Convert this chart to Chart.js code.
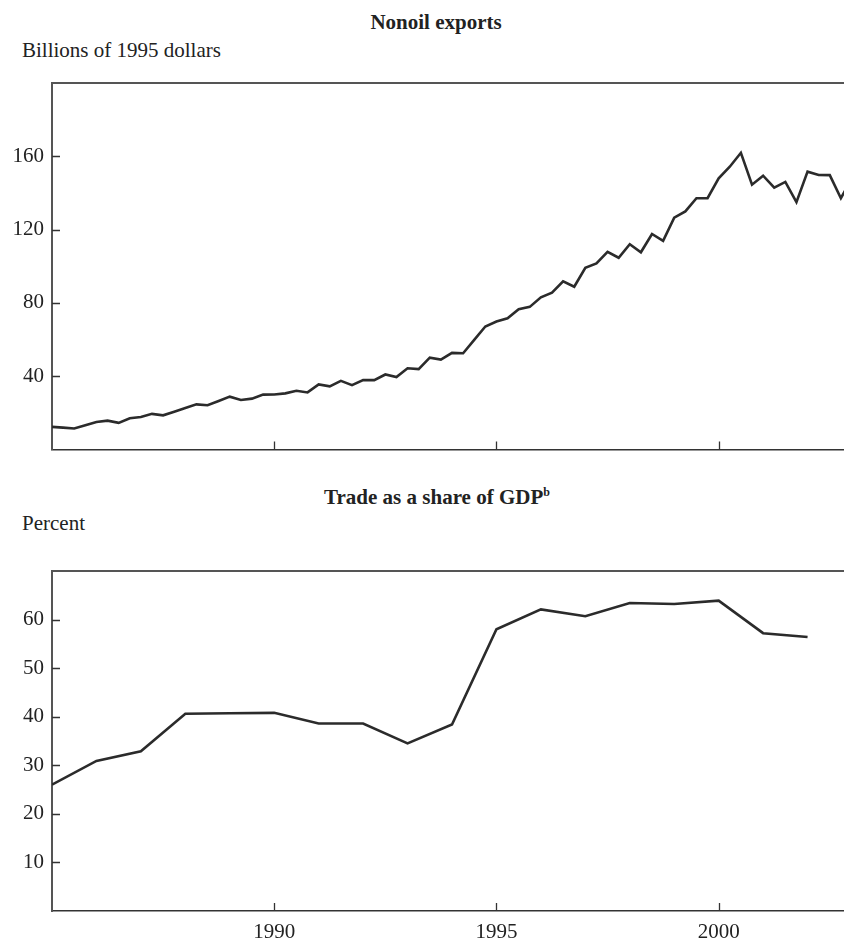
<!DOCTYPE html>
<html>
<head>
<meta charset="utf-8">
<script src="https://cdn.jsdelivr.net/npm/chart.js@4.4.0/dist/chart.umd.min.js"></script>
<style>
  html, body { margin: 0; padding: 0; background: #fff; }
  #page { position: relative; width: 844px; height: 939px; overflow: hidden; background: #fff; }
  .txt { position: absolute; font-family: "Liberation Serif", "DejaVu Serif", serif; font-size: 21px; color: #222; white-space: nowrap; line-height: 1; }
  .ttl { font-weight: bold; transform: translateX(-50%); }
  .ttl sup { font-size: 12px; vertical-align: 8px; }
  canvas { position: absolute; left: 0; }
</style>
</head>
<body>
<div id="page">
  <div class="txt ttl" style="left:436px; top:12px;">Nonoil exports</div>
  <div class="txt" style="left:22px; top:40px;">Billions of 1995 dollars</div>
  <canvas id="exports" width="852" height="410" style="top:60px;"></canvas>

  <div class="txt ttl" style="left:437px; top:486px;">Trade as a share of GDP<sup>b</sup></div>
  <div class="txt" style="left:22px; top:513px;">Percent</div>
  <canvas id="trade" width="852" height="399" style="top:540px;"></canvas>
</div>
<script>
// quarterly, starting 1985 Q1
var exportsStart = 1985;
var nonoilExports = [
  12.3, 11.9, 11.4, 13.2, 15.0, 15.7, 14.5, 17.0, 17.7, 19.4,
  18.6, 20.6, 22.6, 24.6, 24.1, 26.4, 28.8, 27.0, 27.7, 29.9,
  30.0, 30.6, 32.0, 31.1, 35.5, 34.4, 37.4, 35.1, 37.8, 37.8,
  40.9, 39.5, 44.3, 43.8, 50.1, 49.0, 52.7, 52.5, 59.8, 67.1,
  69.8, 71.6, 76.5, 77.8, 83.0, 85.6, 91.7, 88.8, 99.1, 101.5,
  107.8, 104.6, 112.0, 107.6, 117.6, 113.8, 126.5, 129.9, 137.1, 137.1,
  148.0, 154.3, 161.9, 144.5, 149.4, 142.9, 146.0, 135.0, 151.6, 149.8,
  149.7, 137.1, 148.0
];
var exportsTicks = [40, 80, 120, 160];

// annual
var tradeYears = [1985, 1986, 1987, 1988, 1989, 1990, 1991, 1992, 1993,
                  1994, 1995, 1996, 1997, 1998, 1999, 2000, 2001, 2002];
var tradeShare = [26.0, 30.9, 32.9, 40.6, 40.7, 40.8, 38.6, 38.6, 34.5,
                  38.4, 58.0, 62.1, 60.7, 63.4, 63.2, 63.9, 57.2, 56.4];
var tradeTicks = [10, 20, 30, 40, 50, 60];

var yearTicks = [1990, 1995, 2000];

var serif = '"Liberation Serif", "DejaVu Serif", serif';

// inward tick marks + top frame line
var frameTicks = {
  id: 'frameTicks',
  afterDraw: function(chart) {
    var ctx = chart.ctx;
    var a = chart.chartArea;
    var xs = chart.scales.x, ys = chart.scales.y;
    ctx.save();
    ctx.strokeStyle = '#555';
    ctx.lineWidth = 2;
    ctx.beginPath();
    ctx.moveTo(a.left - 1, a.top);
    ctx.lineTo(a.right, a.top);
    ctx.stroke();
    ctx.strokeStyle = '#333';
    ctx.lineWidth = 1.3;
    ctx.beginPath();
    ys.ticks.forEach(function(t) {
      var y = Math.round(ys.getPixelForValue(t.value)) + 0.5;
      ctx.moveTo(a.left, y);
      ctx.lineTo(a.left + 8, y);
    });
    xs.ticks.forEach(function(t) {
      var x = Math.round(xs.getPixelForValue(t.value)) + 0.5;
      ctx.moveTo(x, a.bottom);
      ctx.lineTo(x, a.bottom - 8);
    });
    ctx.stroke();
    ctx.restore();
  }
};

function makeChart(id, points, yMax, yTicks, showYears, padTop, xHeight) {
  return new Chart(document.getElementById(id), {
    type: 'line',
    data: {
      datasets: [{
        data: points,
        borderColor: '#2b2b2b',
        borderWidth: 2.6,
        pointRadius: 0,
        tension: 0,
        fill: false
      }]
    },
    options: {
      responsive: false,
      animation: false,
      devicePixelRatio: 1,
      layout: { padding: { top: padTop, left: 0, right: 0, bottom: 0 } },
      plugins: { legend: { display: false }, tooltip: { enabled: false } },
      scales: {
        x: {
          type: 'linear',
          min: 1985,
          max: 2003,
          afterBuildTicks: function(s) { s.ticks = yearTicks.map(function(v) { return { value: v }; }); },
          afterFit: function(s) { s.height = xHeight; },
          grid: { display: false, drawTicks: false },
          border: { display: true, color: '#333', width: 1.5 },
          ticks: {
            display: showYears,
            padding: 9,
            maxRotation: 0,
            color: '#222',
            font: { family: serif, size: 21 },
            callback: function(v) { return String(v); }
          }
        },
        y: {
          min: 0,
          max: yMax,
          afterBuildTicks: function(s) { s.ticks = yTicks.map(function(v) { return { value: v }; }); },
          afterFit: function(s) { s.width = 52; },
          grid: { display: false, drawTicks: false },
          border: { display: true, color: '#555', width: 2 },
          ticks: {
            padding: 8,
            color: '#222',
            font: { family: serif, size: 21 }
          }
        }
      }
    },
    plugins: [frameTicks]
  });
}

var exportPoints = nonoilExports.map(function(v, i) { return { x: exportsStart + i / 4, y: v }; });
var tradePoints = tradeShare.map(function(v, i) { return { x: tradeYears[i], y: v }; });

makeChart('exports', exportPoints, 200, exportsTicks, false, 23, 18);
makeChart('trade', tradePoints, 70, tradeTicks, true, 31, 28);
</script>
</body>
</html>
